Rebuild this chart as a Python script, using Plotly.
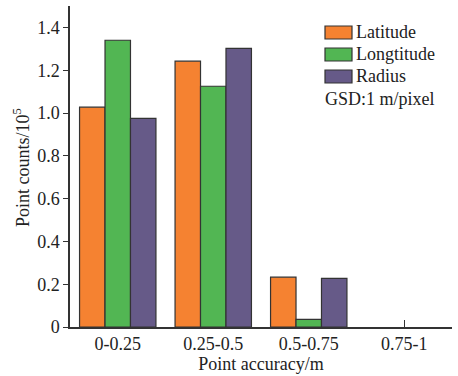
import plotly.graph_objects as go

categories = ["0-0.25", "0.25-0.5", "0.5-0.75", "0.75-1"]
latitude = [1.027, 1.242, 0.233, 0.0]
longtitude = [1.340, 1.125, 0.036, 0.0]
radius = [0.975, 1.302, 0.227, 0.0]
series_names = ["Latitude", "Longtitude", "Radius"]
colors = ["#F58231", "#52B653", "#665A88"]
y_ticks = [0, 0.2, 0.4, 0.6, 0.8, 1.0, 1.2, 1.4]
y_tick_text = ["0", "0.2", "0.4", "0.6", "0.8", "1.0", "1.2", "1.4"]

FONT = "Liberation Serif"

fig = go.Figure()
for name, vals, col in zip(series_names, [latitude, longtitude, radius], colors):
    fig.add_trace(go.Bar(
        x=categories, y=vals, name=name,
        marker=dict(color=col, line=dict(color="#333333",
                                         width=[1.2 if v > 0 else 0 for v in vals])),
        showlegend=False,
    ))

# legend drawn manually (larger swatches as in reference)
leg_x0, leg_x1 = 325, 352
W, H = 458, 376
ml, mr, mt, mb = 70, 6, 6, 49
pw, ph = W - ml - mr, H - mt - mb
def px(x):
    return (x - ml) / pw
def py(y):
    return (H - mb - y) / ph

row_y = [32.5, 54.5, 76.5]
for name, col, yc in zip(series_names, colors, row_y):
    fig.add_shape(type="rect", xref="paper", yref="paper",
                  x0=px(leg_x0), x1=px(leg_x1), y0=py(yc - 6.5), y1=py(yc + 6.5),
                  fillcolor=col, line=dict(color="#333333", width=1.2))
    fig.add_annotation(xref="paper", yref="paper", x=px(leg_x1 + 2), y=py(yc),
                       text=name, showarrow=False, xanchor="left", yanchor="middle",
                       font=dict(family=FONT, size=18, color="#222222"))
fig.add_annotation(xref="paper", yref="paper", x=px(323), y=py(99),
                   text="GSD:1 m/pixel", showarrow=False, xanchor="left", yanchor="middle",
                   font=dict(family=FONT, size=18, color="#222222"))

# y-axis title
fig.add_annotation(xref="paper", yref="paper", x=px(21), y=py(168),
                   text="Point counts/10<sup>5</sup>", showarrow=False, textangle=-90,
                   xanchor="center", yanchor="middle",
                   font=dict(family=FONT, size=18, color="#222222"))

fig.update_layout(
    width=W, height=H,
    margin=dict(l=ml, r=mr, t=mt, b=mb),
    paper_bgcolor="white", plot_bgcolor="white",
    barmode="group", bargap=0.2, bargroupgap=0,
    font=dict(family=FONT, size=18, color="#222222"),
    xaxis=dict(
        range=[-0.5, 3.5], showline=True, linecolor="#333333", linewidth=1.5,
        ticks="inside", ticklen=7, tickcolor="#333333", tickwidth=1.2,
        layer="below traces", showgrid=False, zeroline=False,
        tickfont=dict(family=FONT, size=18, color="#222222"),
        title=dict(text="Point accuracy/m", standoff=2,
                   font=dict(family=FONT, size=18, color="#222222")),
    ),
    yaxis=dict(
        range=[0, 1.5], tickvals=y_ticks, ticktext=y_tick_text,
        showline=True, linecolor="#333333", linewidth=1.5,
        ticks="outside", ticklen=5, tickcolor="#333333", tickwidth=1.2,
        showgrid=False, zeroline=False,
        tickfont=dict(family=FONT, size=18, color="#222222"),
    ),
)

fig.write_html("out.html")
